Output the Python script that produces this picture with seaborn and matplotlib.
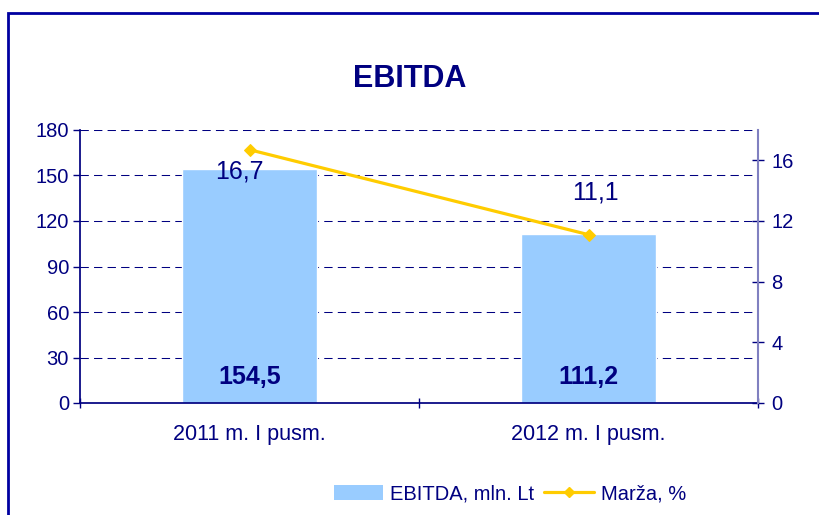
import matplotlib
matplotlib.use("Agg")
import matplotlib.pyplot as plt
from matplotlib.lines import Line2D
from matplotlib.patches import Patch, Rectangle
import numpy as np
import seaborn as sns

sns.set_theme(style="white")
plt.rcParams["font.family"] = ["Liberation Sans", "DejaVu Sans"]

NAVY = "#000080"
BAR_COLOR = "#99CCFF"
LINE_COLOR = "#FFCC00"

categories = ["2011 m. I pusm.", "2012 m. I pusm."]
ebitda = [154.5, 111.2]
margin = [16.7, 11.1]
ebitda_labels = ["154,5", "111,2"]
margin_labels = ["16,7", "11,1"]
left_ticks = [0, 30, 60, 90, 120, 150, 180]
right_ticks = [0, 4, 8, 12, 16]

fig = plt.figure(figsize=(8.19, 5.15), dpi=100)
ax = fig.add_axes([80 / 819, 112 / 515, 678 / 819, 273 / 515])

sns.barplot(x=categories, y=ebitda, color=BAR_COLOR, width=0.4, saturation=1, ax=ax)
ax.set_xlim(-0.5, 1.5)
ax.set_ylim(0, 180)
ax.set_yticks(left_ticks)
ax.yaxis.grid(True, linestyle=(0, (8, 5)), color=NAVY, linewidth=0.75)
ax.set_axisbelow(True)
ax.tick_params(axis="y", colors=NAVY, labelsize=14.5, length=5, width=1, direction="out",
               left=True, pad=3)
ax.tick_params(axis="x", colors=NAVY, labelsize=15.5, length=0, pad=15)
ax.set_xticks(np.arange(-0.5, len(categories), 1.0), minor=True)
ax.tick_params(axis="x", which="minor", length=7, width=1, color=NAVY, direction="inout", bottom=True)
for side in ["top", "right"]:
    ax.spines[side].set_visible(False)
ax.spines["left"].set_color(NAVY)
ax.spines["bottom"].set_color(NAVY)

for i, lab in enumerate(ebitda_labels):
    ax.text(i, 17, lab, ha="center", va="center", fontsize=18, fontweight="bold", color=NAVY)

ax2 = ax.twinx()
xs = np.arange(len(categories))
sns.lineplot(x=xs, y=margin, ax=ax2, color=LINE_COLOR, linewidth=2.3, marker="D",
             markersize=6, markeredgecolor=LINE_COLOR)
ax2.set_xlim(-0.5, 1.5)
ax2.set_ylim(0, 18)
ax2.set_yticks(right_ticks)
ax2.tick_params(axis="y", colors=NAVY, labelsize=14.5, length=9, width=1, direction="inout",
                right=True, pad=5)
ax2.grid(False)
for side in ["top", "left", "bottom"]:
    ax2.spines[side].set_visible(False)
ax2.spines["right"].set_color("#8080C0")
ax2.spines["right"].set_linewidth(1.5)

label_offsets = [(-7, -16), (5, 30)]
for i, (lab, off) in enumerate(zip(margin_labels, label_offsets)):
    ax2.annotate(lab, (i, margin[i]), xytext=off, textcoords="offset points",
                 ha="center", va="center", fontsize=18, color=NAVY)

fig.text(0.5, (515 - 79) / 515, "EBITDA", ha="center", va="center", fontsize=22,
         fontweight="bold", color=NAVY)

handles = [Patch(facecolor=BAR_COLOR, edgecolor="none"),
           Line2D([0], [0], color=LINE_COLOR, linewidth=2.3, marker="D", markersize=5)]
fig.legend(handles, ["EBITDA, mln. Lt", "Marža, %"], loc="center",
           bbox_to_anchor=(510 / 819, (515 - 494) / 515), ncol=2, frameon=False,
           fontsize=14.5, labelcolor=NAVY, handlelength=2.45, handleheight=0.75,
           handletextpad=0.35, columnspacing=0.5)

fig.patches.append(Rectangle((8 / 819, -0.1), 1.2, (515 - 13) / 515 + 0.1,
                             transform=fig.transFigure, fill=False, edgecolor="#0000A0",
                             linewidth=2))

fig.savefig("out.png", dpi=100)
